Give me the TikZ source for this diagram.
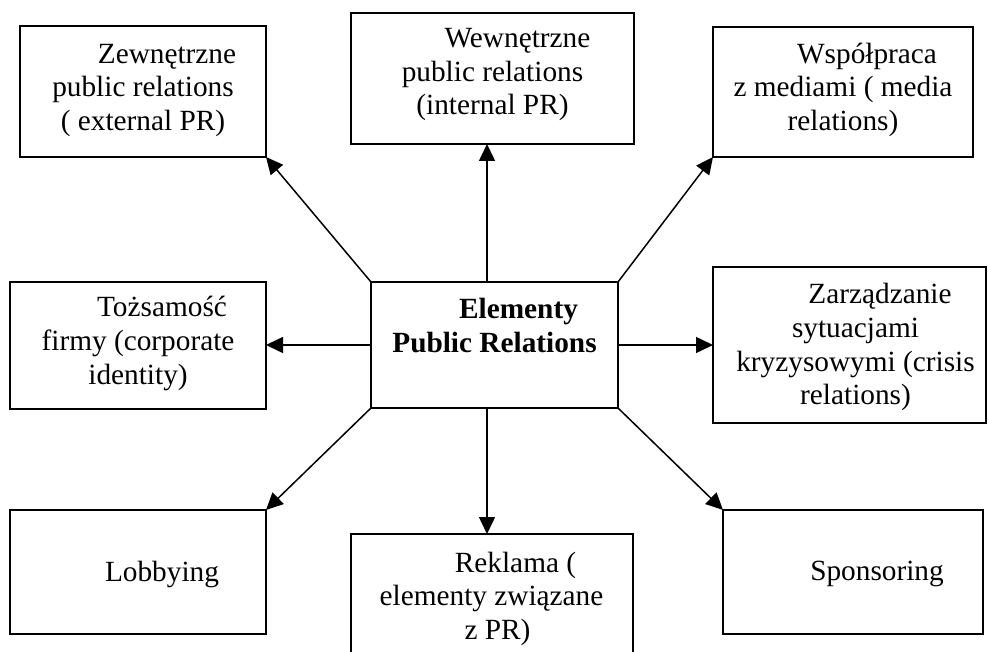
\documentclass[tikz,border=0pt]{standalone}
\usepackage{fontspec}
\setmainfont{Liberation Serif}
\usetikzlibrary{arrows.meta}
\begin{document}
\begin{tikzpicture}[x=1pt,y=-1pt,
  box/.style={draw, line width=2pt, inner sep=0pt, outer sep=0pt},
  lbl/.style={inner sep=0pt, outer sep=0pt, anchor=base},
  arr/.style={line width=1.5pt, -{Triangle[length=17pt,width=16pt]}}]
\newcommand{\boxtext}[1]{\parbox[t]{320pt}{\centering\fontsize{29.3pt}{33.6pt}\selectfont #1}}
\useasboundingbox (0,0) rectangle (988,652);
\clip (0,0) rectangle (988,652);
% boxes
\node[box, minimum width=246pt, minimum height=131pt] (tl) at (143,91.5) {};
\node[box, minimum width=283pt, minimum height=131pt] (tm) at (492.5,78.5) {};
\node[box, minimum width=260pt, minimum height=130pt] (tr) at (843,92) {};
\node[box, minimum width=256pt, minimum height=127pt] (ml) at (138,345.5) {};
\node[box, minimum width=247pt, minimum height=126pt] (c) at (494.5,345) {};
\node[box, minimum width=273pt, minimum height=156pt] (mr) at (849.5,345) {};
\node[box, minimum width=256pt, minimum height=124pt] (bl) at (138,572) {};
\node[box, minimum width=282pt, minimum height=166pt] (bm) at (492,617) {};
\node[box, minimum width=260pt, minimum height=124pt] (br) at (853,572) {};
% texts
\node[lbl] (tltx) at (143,63.3) {\boxtext{\hspace*{48pt}Zewnętrzne\\public relations\\( external PR)}};
\node[lbl] (tmtx) at (492.5,47.5) {\boxtext{\hspace*{50pt}Wewnętrzne\\public relations\\(internal PR)}};
\node[lbl] (trtx) at (843,63.3) {\boxtext{\hspace*{48pt}Współpraca\\z mediami ( media\\relations)}};
\node[lbl] (mltx) at (138,317) {\boxtext{\hspace*{48pt}Tożsamość\\firmy (corporate\\identity)}};
\node[lbl] (ctx) at (494.5,319) {\boxtext{\bfseries\hspace*{48pt}Elementy\\Public Relations}};
\node[lbl] (mrtx) at (855.5,304) {\boxtext{\hspace*{49pt}Zarządzanie\\sytuacjami\\kryzysowymi (crisis\\relations)}};
\node[lbl] (bltx) at (138,581) {\boxtext{\hspace*{48pt}Lobbying}};
\node[lbl] (bmtx) at (491.5,572) {\boxtext{\hspace*{48pt}Reklama (\\elementy związane\\\hspace*{12pt}z PR)}};
\node[lbl] (brtx) at (853,580) {\boxtext{\hspace*{48pt}Sponsoring}};
% connectors
\draw[arr] (c.north west) -- (tl.south east);
\draw[arr] ([xshift=-7.5pt]c.north) -- ([xshift=-7.5pt]c.north |- tm.south);
\draw[arr] (c.north east) -- (tr.south west);
\draw[arr] (c.west) -- (c.west -| ml.east);
\draw[arr] (c.east) -- (c.east -| mr.west);
\draw[arr] (c.south west) -- (bl.north east);
\draw[arr] ([xshift=-7.5pt]c.south) -- ([xshift=-7.5pt]c.south |- bm.north);
\draw[arr] (c.south east) -- (br.north west);
\end{tikzpicture}
\end{document}
